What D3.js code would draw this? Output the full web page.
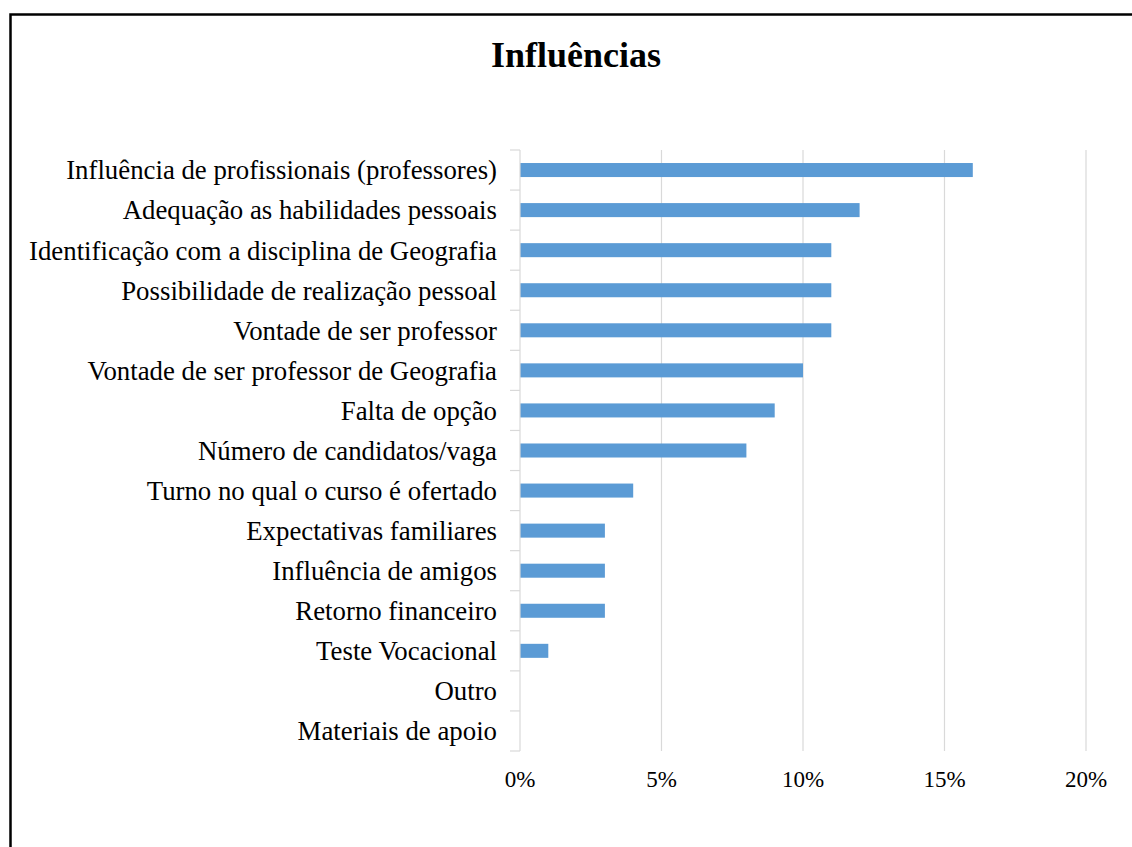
<!DOCTYPE html>
<html lang="pt">

<head>
  <title>Influências</title>
  <meta charset="UTF-8">
  <style>
    body {
      margin: 0;
      background: #fff;
    }
    text {
      font-family: "Liberation Serif", "Times New Roman", serif;
      fill: #000;
    }
  </style>
</head>

<body>
  <div id="container"></div>
  <script src="https://cdn.jsdelivr.net/npm/d3@7"></script>
  <script>
    const categories = [
      'Influência de profissionais (professores)',
      'Adequação as habilidades pessoais',
      'Identificação com a disciplina de Geografia',
      'Possibilidade de realização pessoal',
      'Vontade de ser professor',
      'Vontade de ser professor de Geografia',
      'Falta de opção',
      'Número de candidatos/vaga',
      'Turno no qual o curso é ofertado',
      'Expectativas familiares',
      'Influência de amigos',
      'Retorno financeiro',
      'Teste Vocacional',
      'Outro',
      'Materiais de apoio'
    ];
    const values = [16, 12, 11, 11, 11, 10, 9, 8, 4, 3, 3, 3, 1, 0, 0];
    const xTicks = [0, 5, 10, 15, 20];

    const width = 1132, height = 847;
    const plot = { left: 520, right: 1086, top: 150, bottom: 751 };

    const svg = d3.select('#container')
      .append('svg')
      .attr('width', width)
      .attr('height', height);

    // outer frame
    svg.append('rect')
      .attr('x', 10.5)
      .attr('y', 14.5)
      .attr('width', 1140)
      .attr('height', 860)
      .attr('fill', 'none')
      .attr('stroke', '#000')
      .attr('stroke-width', 2.5);

    svg.append('text')
      .attr('x', 576)
      .attr('y', 67)
      .attr('text-anchor', 'middle')
      .style('font-size', '36px')
      .style('font-weight', 'bold')
      .text('Influências');

    const x = d3.scaleLinear()
      .domain([0, 20])
      .range([plot.left, plot.right]);

    const y = d3.scaleBand()
      .domain(categories)
      .range([plot.top, plot.bottom])
      .paddingInner(0.65)
      .paddingOuter(0.325);

    const yb = d3.scaleBand()
      .domain(categories)
      .range([plot.top, plot.bottom]);

    // gridlines
    svg.append('g')
      .selectAll('line')
      .data(xTicks.slice(1))
      .join('line')
      .attr('x1', d => x(d))
      .attr('x2', d => x(d))
      .attr('y1', plot.top)
      .attr('y2', plot.bottom)
      .attr('stroke', '#d9d9d9')
      .attr('stroke-width', 1.2);

    // bars
    svg.append('g')
      .selectAll('rect')
      .data(values)
      .join('rect')
      .attr('x', x(0))
      .attr('y', (d, i) => y(categories[i]))
      .attr('width', d => x(d) - x(0))
      .attr('height', y.bandwidth())
      .attr('fill', '#5b9bd5');

    // category axis line and ticks
    const boundaries = categories.map(c => yb(c)).concat([plot.bottom]);
    svg.append('line')
      .attr('x1', plot.left)
      .attr('x2', plot.left)
      .attr('y1', plot.top)
      .attr('y2', plot.bottom)
      .attr('stroke', '#d9d9d9')
      .attr('stroke-width', 1.2);
    svg.append('g')
      .selectAll('line')
      .data(boundaries)
      .join('line')
      .attr('x1', plot.left - 10)
      .attr('x2', plot.left)
      .attr('y1', d => d)
      .attr('y2', d => d)
      .attr('stroke', '#d9d9d9')
      .attr('stroke-width', 1.2);

    // category labels
    svg.append('g')
      .selectAll('text')
      .data(categories)
      .join('text')
      .attr('x', 497)
      .attr('y', d => yb(d) + yb.bandwidth() / 2)
      .attr('dy', '0.35em')
      .attr('text-anchor', 'end')
      .style('font-size', '26.8px')
      .text(d => d);

    // value axis labels
    svg.append('g')
      .selectAll('text')
      .data(xTicks)
      .join('text')
      .attr('x', d => x(d))
      .attr('y', 787)
      .attr('text-anchor', 'middle')
      .style('font-size', '23px')
      .text(d => d + '%');
  </script>
</body>

</html>
